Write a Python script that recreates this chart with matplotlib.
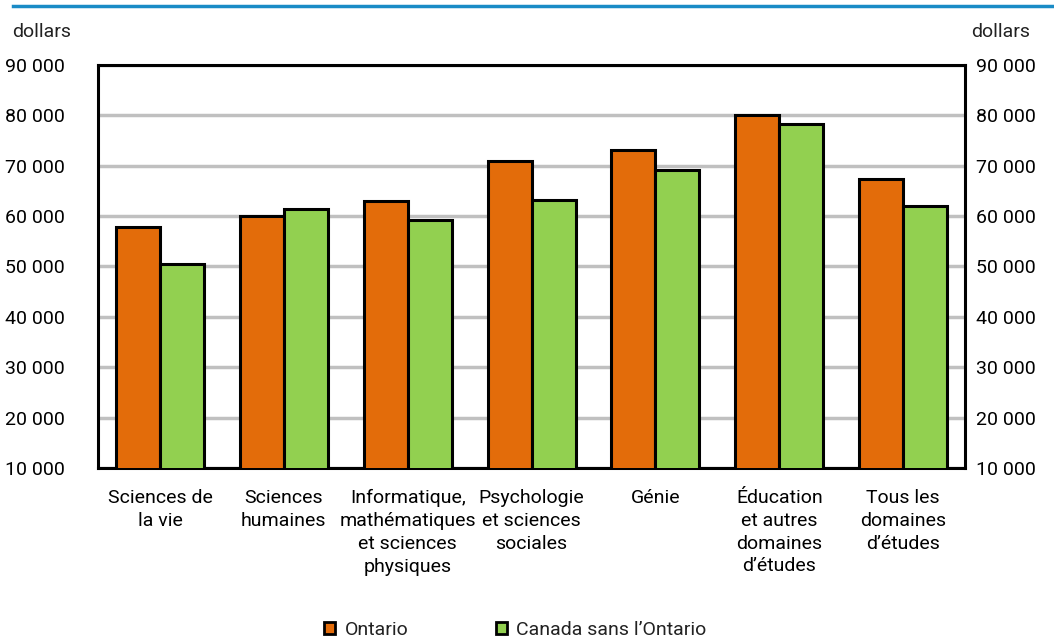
import matplotlib
matplotlib.use('Agg')
import matplotlib.pyplot as plt
import numpy as np
from matplotlib.patches import Patch
from matplotlib.ticker import FuncFormatter

plt.rcParams.update({
    'font.family': ['Roboto', 'DejaVu Sans'],
    'font.size': 14,
    'text.color': '#222222',
})

categories = [
    'Sciences de\nla vie',
    'Sciences\nhumaines',
    'Informatique,\nmathématiques\net sciences\nphysiques',
    'Psychologie\net sciences\nsociales',
    'Génie',
    'Éducation\net autres\ndomaines\nd\u2019études',
    'Tous les\ndomaines\nd\u2019études',
]
ontario = [57900, 60000, 62900, 71000, 73200, 80000, 67400]
canada_sans_ontario = [50400, 61500, 59200, 63200, 69200, 78200, 62000]
series_names = ['Ontario', 'Canada sans l\u2019Ontario']
y_ticks = [10000, 20000, 30000, 40000, 50000, 60000, 70000, 80000, 90000]

COL_ON = '#E36C0A'
COL_CA = '#92D050'

fig = plt.figure(figsize=(10.54, 6.41), dpi=100)
ax = fig.add_axes([0.093, 0.27, 0.8226, 0.6286])

x = np.arange(len(categories))
w = 0.355
ax.bar(x - w / 2, ontario, w, color=COL_ON, edgecolor='black', linewidth=2.2, zorder=3)
ax.bar(x + w / 2, canada_sans_ontario, w, color=COL_CA, edgecolor='black', linewidth=2.2, zorder=3)

ax.set_xlim(-0.5, len(categories) - 0.5)
ax.set_ylim(10000, 90000)
ax.set_yticks(y_ticks)
fmt = FuncFormatter(lambda v, p: f'{int(v):,}'.replace(',', ' '))
ax.yaxis.set_major_formatter(fmt)
ax.grid(axis='y', color='#c0c0c0', linewidth=2.5, zorder=0)
ax.set_axisbelow(True)

for s in ax.spines.values():
    s.set_linewidth(2.2)
    s.set_color('black')

ax.set_xticks(x)
ax.set_xticklabels(categories, va='top', ha='center', linespacing=1.35)
ax.tick_params(axis='x', length=0, pad=15, labelsize=14)
ax.tick_params(axis='y', length=0, pad=24, labelsize=14)

# right-hand copy of the y axis
ax2 = ax.twinx()
ax2.set_ylim(ax.get_ylim())
ax2.set_yticks(y_ticks)
ax2.yaxis.set_major_formatter(fmt)
ax2.tick_params(axis='y', length=0, pad=8, labelsize=14)
for s in ax2.spines.values():
    s.set_visible(False)

fig.text(12 / 1054, 1 - 32 / 641, 'dollars', ha='left', va='center', fontsize=14)
fig.text(971 / 1054, 1 - 32 / 641, 'dollars', ha='left', va='center', fontsize=14)

# blue rule at the top
fig.add_artist(plt.Line2D([13 / 1054, 1.0], [1 - 6 / 641, 1 - 6 / 641],
                          color='#1a8bc6', linewidth=2.5, transform=fig.transFigure))

handles = [Patch(facecolor=COL_ON, edgecolor='black', linewidth=2),
           Patch(facecolor=COL_CA, edgecolor='black', linewidth=2)]
fig.legend(handles, series_names, loc='center', bbox_to_anchor=(0.489, 1 - 630 / 641),
           ncol=2, frameon=False, fontsize=14, handlelength=0.55, handleheight=0.55,
           handletextpad=0.5, columnspacing=4.5)

fig.savefig('out.png', dpi=100)
